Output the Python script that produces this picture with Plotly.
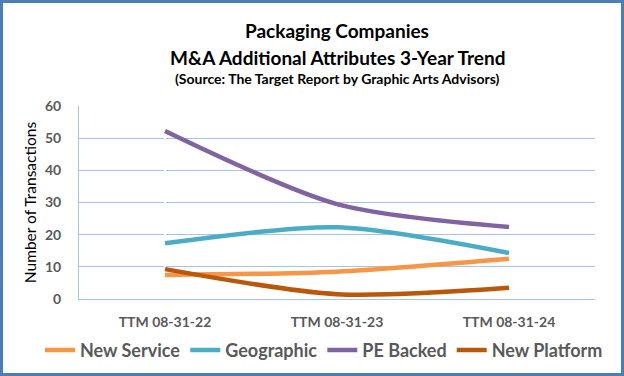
import plotly.graph_objects as go

categories = ["TTM 08-31-22", "TTM 08-31-23", "TTM 08-31-24"]
new_service = [7.5, 8.5, 12.5]
geographic = [17.3, 22.3, 14.3]
pe_backed = [52.2, 29.5, 22.4]
new_platform = [9.3, 1.5, 3.5]

series = [
    ("New Service", new_service, "#F79646"),
    ("Geographic", geographic, "#4BACC6"),
    ("PE Backed", pe_backed, "#8064A2"),
    ("New Platform", new_platform, "#B9570B"),
]

FONT = "Lato"
GREY = "#595959"
GRID = "#A9C1E4"
W, H = 624, 376
L, R, T, B = 79, 29, 106, 77
PW, PH = W - L - R, H - T - B

fig = go.Figure()
for name, vals, col in series:
    fig.add_trace(go.Scatter(
        x=list(range(len(categories))), y=vals, name=name, mode="lines",
        line=dict(color=col, width=4.5, shape="spline", smoothing=0.8),
    ))

fig.update_layout(
    width=W, height=H,
    margin=dict(l=L, r=R, t=T, b=B, autoexpand=False),
    paper_bgcolor="white", plot_bgcolor="white",
    font=dict(family=FONT, color=GREY),
    showlegend=True,
    legend=dict(orientation="h", x=(40 - L) / PW, xanchor="left", y=-0.17, yanchor="top",
                font=dict(family=FONT, size=18, color=GREY, weight="bold"),
                itemwidth=30, tracegroupgap=0, bgcolor="rgba(0,0,0,0)"),
    xaxis=dict(tickmode="array", tickvals=list(range(len(categories))), ticktext=categories,
               range=[-0.5, 2.5], showgrid=False, showline=True, linecolor=GRID, linewidth=1,
               automargin=False, ticklabelstandoff=10,
               ticks="", tickfont=dict(family=FONT, size=14, color=GREY, weight="bold"), fixedrange=True),
    yaxis=dict(range=[0, 60], dtick=10, showgrid=True, gridcolor=GRID, gridwidth=1,
               showline=True, linecolor=GRID, linewidth=1, zeroline=False, ticks="",
               ticklabelstandoff=14, automargin=False,
               tickfont=dict(family=FONT, size=14, color=GREY, weight="bold"),
               title=dict(text="Number of Transactions", font=dict(family=FONT, size=15.5, color="#000000"), standoff=4)),
    annotations=[
        dict(text="<b>Packaging Companies</b>", xref="paper", yref="paper", x=0.5, y=1, xanchor="center", yanchor="middle",
             showarrow=False, font=dict(family=FONT, size=19, color="#000000"), yshift=76),
        dict(text="<b>M&A Additional Attributes 3-Year Trend</b>", xref="paper", yref="paper", x=0.5, y=1, xanchor="center", yanchor="middle",
             showarrow=False, font=dict(family=FONT, size=19, color="#000000"), yshift=49),
        dict(text="<b>(Source: The Target Report by Graphic Arts Advisors)</b>", xref="paper", yref="paper", x=0.5, y=1, xanchor="center", yanchor="middle",
             showarrow=False, font=dict(family=FONT, size=14, color="#000000"), yshift=27.5),
    ],
    shapes=[dict(type="rect", xref="paper", yref="paper",
                 x0=(1.5 - L) / PW, x1=(W - 1.5 - L) / PW,
                 y0=-(H - 1.5 - T - PH) / PH, y1=(H - 1.5 - B) / PH,
                 line=dict(color="#4A7EBB", width=3), fillcolor="rgba(0,0,0,0)")],
)
fig.write_html("out.html", config={"displayModeBar": False},
               post_script="document.body.style.margin='0';document.body.style.overflow='hidden';")
